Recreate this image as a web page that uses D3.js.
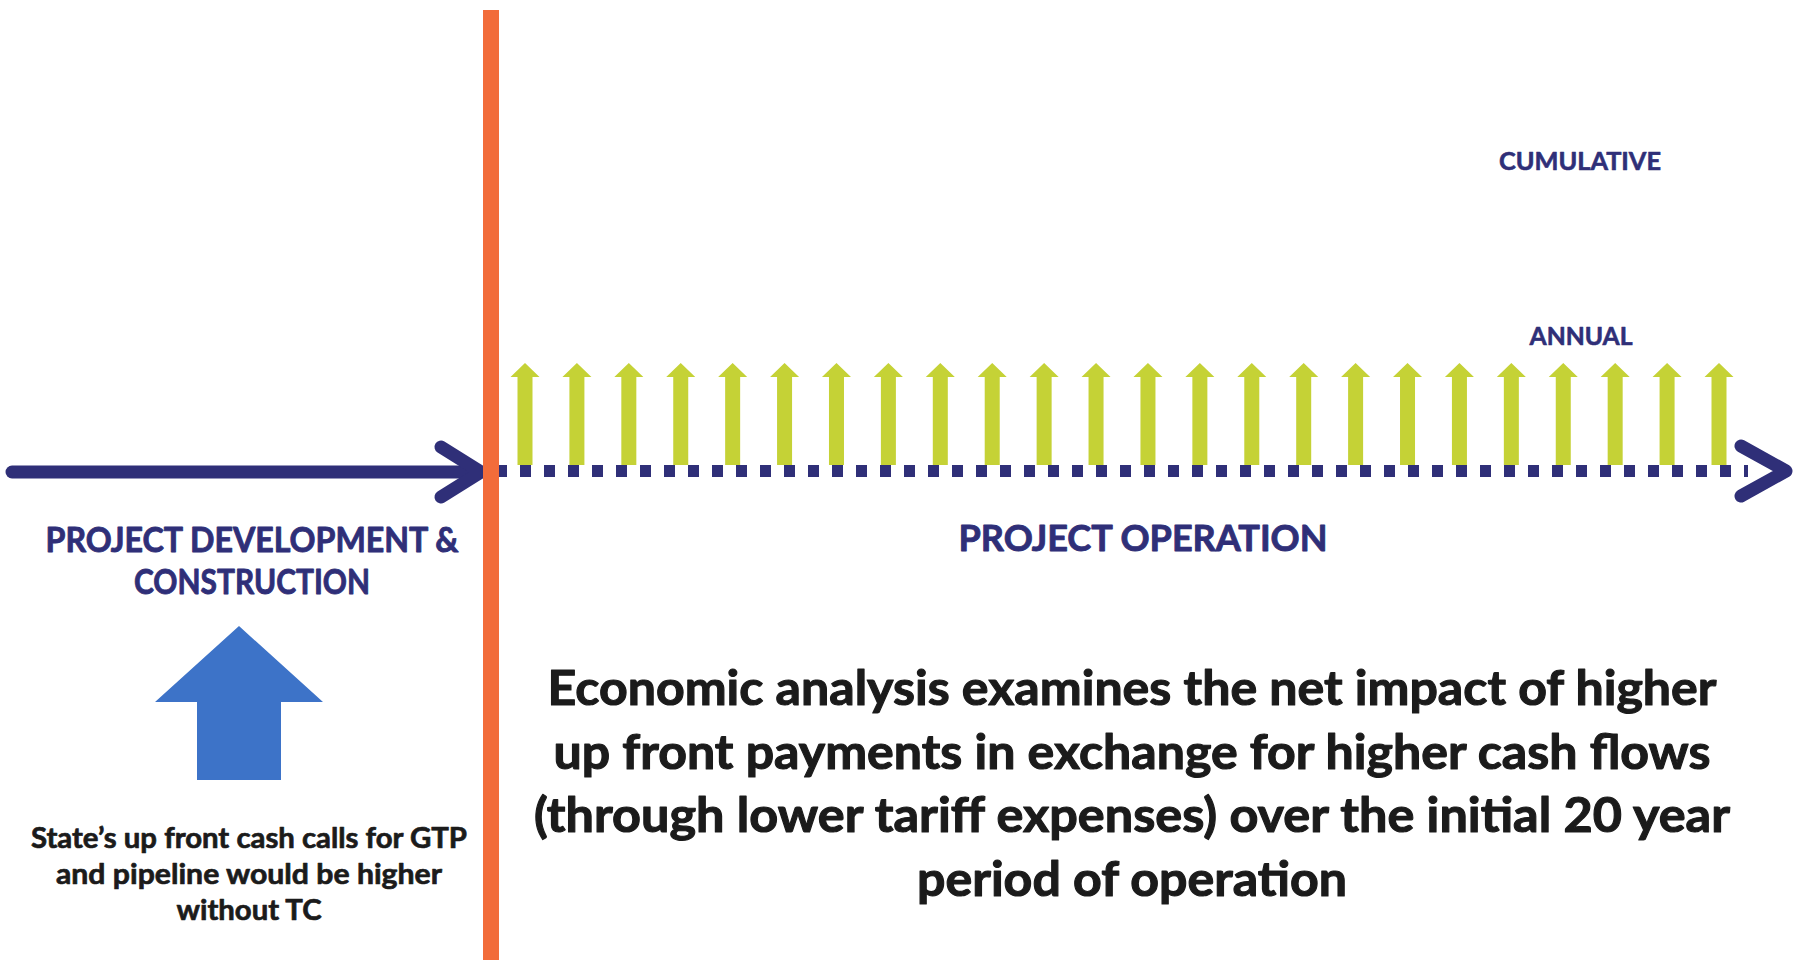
<!DOCTYPE html>
<html>
<head>
<meta charset="utf-8">
<script src="https://cdn.jsdelivr.net/npm/d3@7"></script>
<style>
  html, body { margin: 0; padding: 0; background: #ffffff; }
  svg { display: block; }
  text { font-family: Lato, "Open Sans", "DejaVu Sans", sans-serif; font-weight: 700; }
</style>
</head>
<body>
<svg id="chart" width="1798" height="960"></svg>
<script>
// ---- Data ----
// Operation years, each with one annual cash-flow benefit arrow
const operationYears = [1, 2, 3, 4, 5, 6, 7, 8, 9, 10, 11, 12, 13, 14, 15, 16, 17, 18, 19, 20, 21, 22, 23, 24];
const annualFlows    = [1, 1, 1, 1, 1, 1, 1, 1, 1, 1, 1, 1, 1, 1, 1, 1, 1, 1, 1, 1, 1, 1, 1, 1];
// Up-front cash call during development (relative size)
const upfrontCashCall = [1];

const developmentLabel = ["PROJECT DEVELOPMENT &", "CONSTRUCTION"];
const operationLabel   = ["PROJECT OPERATION"];
const seriesLabels     = ["CUMULATIVE", "ANNUAL"];
const upfrontCaption   = [
  "State\u2019s up front cash calls for GTP",
  "and pipeline would be higher",
  "without TC"
];
const analysisText = [
  "Economic analysis examines the net impact of higher",
  "up front payments in exchange for higher cash flows",
  "(through lower tariff expenses) over the initial 20 year",
  "period of operation"
];

// ---- Style ----
const NAVY   = "#2f2f78";
const ORANGE = "#f26c3a";
const GREEN  = "#c5d236";
const BLUE   = "#3d73c8";
const INK    = "#1b1b1b";

const svg = d3.select("#chart");

// ---- Scales ----
const axisY = 471;
const x = d3.scaleLinear().domain([1, 24]).range([525, 1719]);
const yAnnual = d3.scaleLinear().domain([0, 1]).range([465, 363]);
const yUpfront = d3.scaleLinear().domain([0, 1]).range([780, 626]);

// ---- Timeline: development phase (solid arrow) ----
svg.append("line")
  .attr("x1", 12).attr("y1", axisY + 1)
  .attr("x2", 478).attr("y2", axisY + 1)
  .attr("stroke", NAVY).attr("stroke-width", 13)
  .attr("stroke-linecap", "round");
svg.append("path")
  .attr("d", d3.line()([[441, axisY - 24], [481, axisY + 1], [441, axisY + 26]]))
  .attr("fill", "none").attr("stroke", NAVY).attr("stroke-width", 13)
  .attr("stroke-linecap", "round").attr("stroke-linejoin", "round");

// ---- Timeline: operation phase (dotted arrow) ----
svg.append("line")
  .attr("x1", 496).attr("y1", axisY)
  .attr("x2", 1748).attr("y2", axisY)
  .attr("stroke", NAVY).attr("stroke-width", 12)
  .attr("stroke-dasharray", "11 13");
svg.append("path")
  .attr("d", d3.line()([[1741, axisY - 25], [1786, axisY], [1741, axisY + 25]]))
  .attr("fill", "none").attr("stroke", NAVY).attr("stroke-width", 13)
  .attr("stroke-linecap", "round").attr("stroke-linejoin", "round");

// ---- Phase divider ----
svg.append("rect")
  .attr("x", 483).attr("y", 10)
  .attr("width", 16).attr("height", 950)
  .attr("fill", ORANGE);

// ---- Annual cash-flow arrows ----
function upArrow(cx, yTop, yBase, headHalf, headLen, shaftHalf) {
  return d3.line()([
    [cx, yTop],
    [cx + headHalf, yTop + headLen],
    [cx + shaftHalf, yTop + headLen],
    [cx + shaftHalf, yBase],
    [cx - shaftHalf, yBase],
    [cx - shaftHalf, yTop + headLen],
    [cx - headHalf, yTop + headLen]
  ]) + "Z";
}

svg.append("g").selectAll("path")
  .data(operationYears.map((yr, i) => ({ yr, v: annualFlows[i] })))
  .join("path")
  .attr("d", d => upArrow(x(d.yr), yAnnual(d.v), yAnnual(0), 14.5, 14, 7.5))
  .attr("fill", GREEN);

// ---- Up-front cash call arrow ----
svg.append("path")
  .datum(upfrontCashCall[0])
  .attr("d", v => upArrow(239, yUpfront(v), yUpfront(0), 84, 76, 42))
  .attr("fill", BLUE);

// ---- Labels ----
function textLines(lines, cx, baselines, widths, size, color, weightStroke) {
  svg.append("g").selectAll("text")
    .data(lines)
    .join("text")
    .attr("x", cx)
    .attr("y", (d, i) => baselines[i])
    .attr("text-anchor", "middle")
    .attr("font-size", size)
    .attr("fill", color)
    .attr("stroke", color)
    .attr("stroke-width", weightStroke)
    .attr("stroke-linejoin", "round")
    .attr("textLength", (d, i) => widths[i])
    .attr("lengthAdjust", "spacingAndGlyphs")
    .text(d => d);
}

textLines([seriesLabels[0]], 1580, [170], [162], 25, NAVY, 0.6);
textLines([seriesLabels[1]], 1581, [345], [103], 25, NAVY, 0.6);

textLines(developmentLabel, 252, [552, 594], [413, 236], 35, NAVY, 0.9);
textLines(operationLabel, 1143, [551], [369], 37, NAVY, 0.9);

textLines(upfrontCaption, 249, [848, 884, 920], [436, 386, 145], 29, INK, 0.7);

textLines(analysisText, 1132, [705, 769, 832, 896], [1169, 1157, 1196, 430], 48, INK, 1.1);
</script>
</body>
</html>
